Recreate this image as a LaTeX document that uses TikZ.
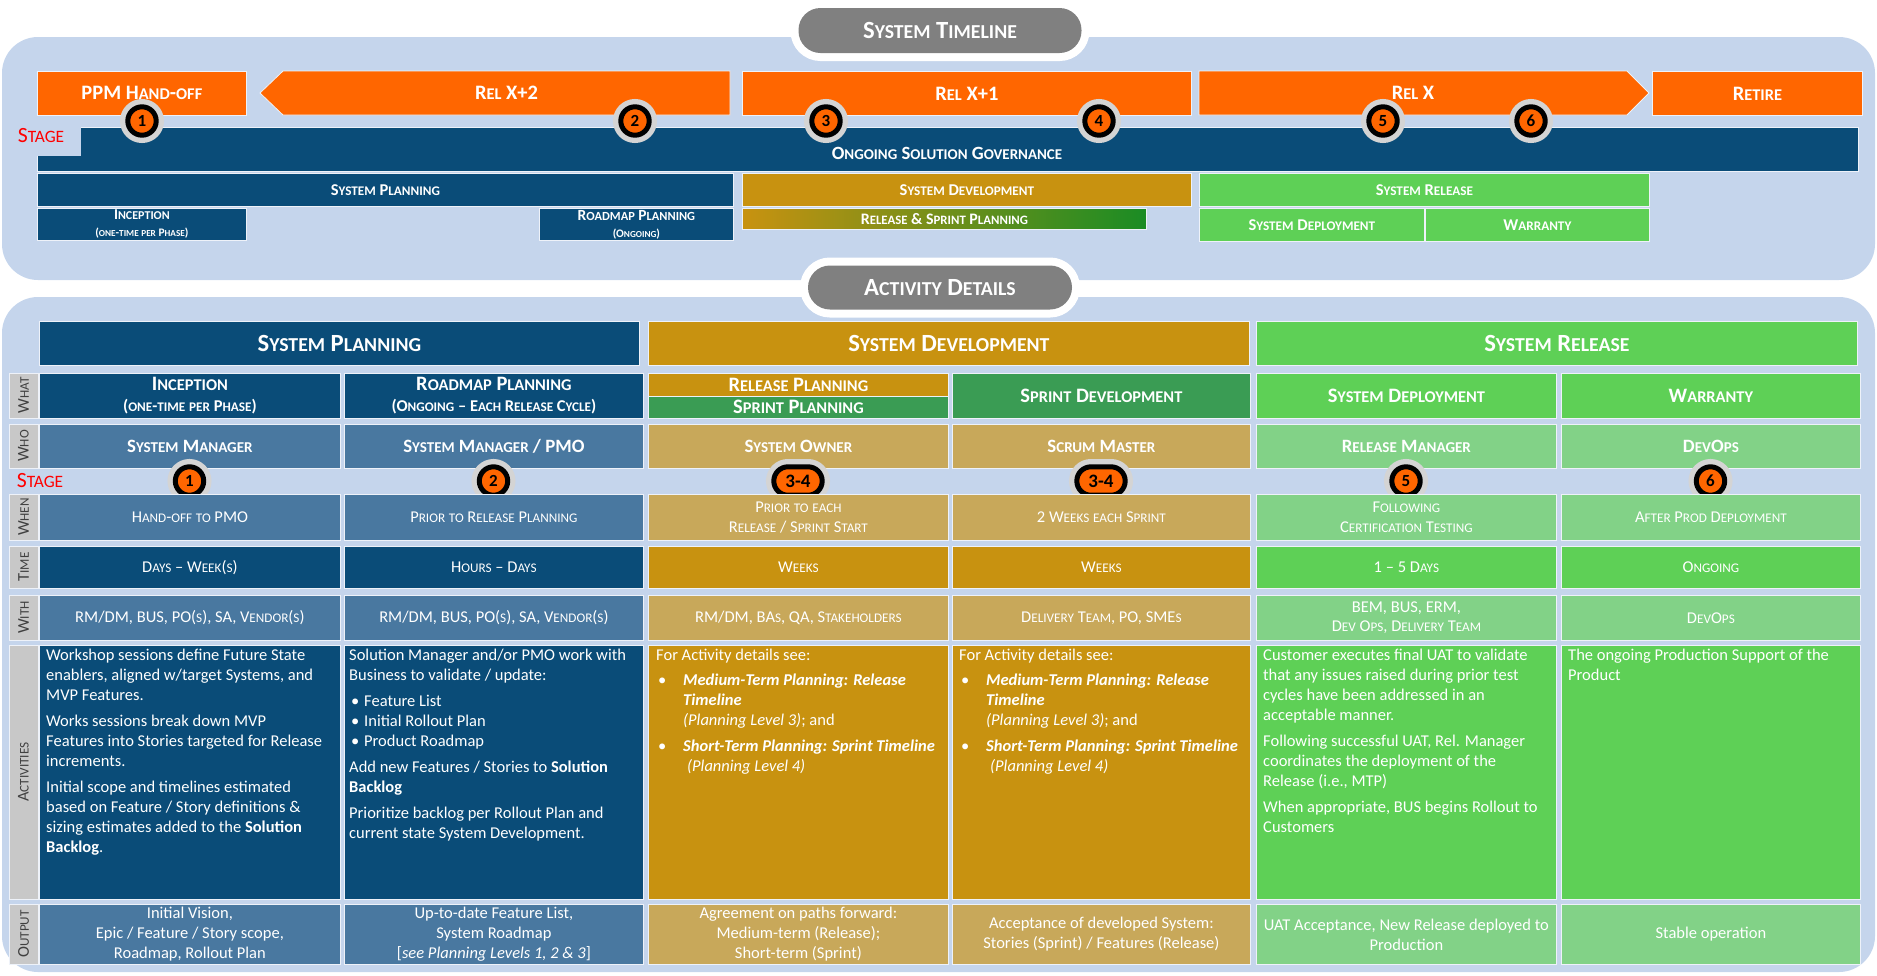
\documentclass[tikz,border=0pt]{standalone}
\usepackage{fontspec}
\setmainfont{Carlito}
\usepackage{xcolor}
\definecolor{panel}{RGB}{197,213,236}
\definecolor{navy}{RGB}{10,76,120}
\definecolor{steel}{RGB}{73,120,160}
\definecolor{sdgold}{RGB}{200,146,16}
\definecolor{sand}{RGB}{200,168,90}
\definecolor{srgreen}{RGB}{94,208,86}
\definecolor{mint}{RGB}{130,210,135}
\definecolor{sprint}{RGB}{58,156,84}
\definecolor{rsgreen}{RGB}{26,140,36}
\definecolor{flame}{RGB}{255,102,0}
\definecolor{pillgray}{RGB}{128,128,128}
\definecolor{halo}{RGB}{212,212,212}
\definecolor{tagfill}{RGB}{200,200,200}
\definecolor{tagtext}{RGB}{64,64,64}
\definecolor{stagered}{RGB}{255,0,0}

% faked small capitals
\ExplSyntaxOn
\NewDocumentCommand \fsc { m }
  {
    \str_map_inline:nn {#1}
      {
        \str_if_in:nnTF { abcdefghijklmnopqrstuvwxyz } {##1}
          {
            {
              \fontsize { \fp_eval:n { 0.8 * \use:c { f@size } } pt }
                { \use:c { f@baselineskip } } \selectfont
              \str_uppercase:n {##1}
            }
          }
          { ##1 }
      }
  }
\ExplSyntaxOff

\newcommand\bul[1]{\hspace*{2pt}\makebox[13pt][l]{\textbullet}#1}
\newcommand\devdetails{%
  For Activity details see:\\[5pt]
  \hspace*{2pt}\makebox[25pt][l]{\textbullet}\textbf{\textit{Medium-Term Planning: Release}}\\
  \hspace*{27pt}\textbf{\textit{Timeline}}\\
  \hspace*{27pt}\textit{(Planning Level 3)}; and\\[6pt]
  \hspace*{2pt}\makebox[25pt][l]{\textbullet}\textbf{\textit{Short-Term Planning: Sprint Timeline}}\\
  \hspace*{31pt}\textit{(Planning Level 4)}}

\begin{document}
\begin{tikzpicture}[x=1pt,y=-1pt,
  box/.style={draw=white!70!panel, line width=0.8pt, inner sep=0pt, text=white, align=center},
  cell/.style={box, anchor=north west},
  relfont/.style={font=\fontsize{20.5}{24}\selectfont\bfseries},
  lblfont/.style={font=\fontsize{16.5}{19}\selectfont\bfseries},
  hdrfont/.style={font=\fontsize{24.7}{28}\selectfont\bfseries},
  whatfont/.style={font=\fontsize{20.5}{21}\selectfont\bfseries},
  whofont/.style={font=\fontsize{18.8}{22}\selectfont\bfseries},
  plainfont/.style={font=\fontsize{16.5}{19.5}\selectfont},
  flamebox/.style={fill=flame, draw=white!70!panel, line width=0.8pt},
  pill/.style={fill=pillgray, rounded corners=22pt, minimum height=45, text=white,
    font=\fontsize{24.7}{28}\selectfont\bfseries, preaction={draw=white, line width=16pt}},
  badge/.style={circle, fill=flame, draw=black, line width=5pt, minimum size=28.4pt,
    inner sep=0pt, text=black, font=\fontsize{17}{17}\selectfont\bfseries,
    preaction={draw=halo, line width=15.6pt}},
  badgewide/.style={badge, rectangle, rounded corners=14.2pt, minimum width=48.4pt,
    minimum height=28.4pt, font=\fontsize{19}{19}\selectfont\bfseries},
  stagelbl/.style={text=stagered, inner sep=0pt, font=\fontsize{21.7}{24}\selectfont},
  tag/.style={box, fill=tagfill, text=tagtext, rotate=90, minimum height=29,
    font=\fontsize{16.5}{18}\selectfont},
  act/.style={anchor=north west, inner sep=0pt, align=left, text=white,
    font=\fontsize{16.5}{20}\selectfont},
  outfont/.style={font=\fontsize{16.5}{20}\selectfont}]
\useasboundingbox (0,0) rectangle (1877,975);

% ---------------- system timeline ----------------
\fill[panel, rounded corners=36pt] (2,37) rectangle (1875,280);
\node[pill, minimum width=283] (timeline) at (940,30.5) {\fsc{System Timeline}};

\node[cell, fill=flame, relfont, minimum width=209, minimum height=44] (ppm) at (37,71) {\fsc{PPM Hand-off}};
\draw[flamebox] (260,93) -- (283,71) -- (730,71) -- (730,115) -- (283,115) -- cycle;
\node[relfont, text=white] (relx2) at (506.5,93) {\fsc{Rel X+2}};
\node[cell, fill=flame, relfont, minimum width=449, minimum height=44] (relx1) at (742,71) {\fsc{Rel X+1}};
\draw[flamebox] (1199,71) -- (1627,71) -- (1649,93) -- (1627,115) -- (1199,115) -- cycle;
\node[relfont, text=white] (relx) at (1413,93) {\fsc{Rel X}};
\node[cell, fill=flame, relfont, minimum width=210, minimum height=44] (retire) at (1652,71) {\fsc{Retire}};

\node[cell, fill=navy, minimum width=1821, minimum height=44] (gov) at (37,127) {};
\fill[panel] (36,126) rectangle (81,156);
\node[text=white, font=\fontsize{18.7}{22}\selectfont\bfseries] (govtext) at (947,153) {\fsc{Ongoing Solution Governance}};
\node[stagelbl] (stagetop) at (41,136) {\fsc{Stage}};

\node[cell, fill=navy, lblfont, minimum width=696, minimum height=33] (tplan) at (37,173) {\fsc{System Planning}};
\node[cell, fill=sdgold, lblfont, minimum width=449, minimum height=33] (tdev) at (742,173) {\fsc{System Development}};
\node[cell, fill=srgreen, lblfont, minimum width=450, minimum height=33] (trel) at (1199,173) {\fsc{System Release}};

\node[cell, fill=navy, font=\fontsize{15}{17}\selectfont\bfseries, minimum width=209, minimum height=32] (tincep) at (37,208)
  {\fsc{Inception}\\{\fontsize{11.5}{14}\selectfont\fsc{(one-time per Phase)}}};
\node[cell, fill=navy, font=\fontsize{15.5}{17}\selectfont\bfseries, minimum width=194, minimum height=32] (troad) at (539,208)
  {\fsc{Roadmap Planning}\\{\fontsize{11.5}{14}\selectfont\fsc{(Ongoing)}}};
\node[cell, left color=sdgold, right color=rsgreen, font=\fontsize{16}{18}\selectfont\bfseries, minimum width=404, minimum height=21] (trsp) at (742,208)
  {\fsc{Release & Sprint Planning}};
\node[cell, fill=srgreen, lblfont, minimum width=225, minimum height=33] (tdep) at (1199,208) {\fsc{System Deployment}};
\node[cell, fill=srgreen, lblfont, minimum width=224, minimum height=33] (twar) at (1425,208) {\fsc{Warranty}};

\foreach \n/\x in {1/142,2/635,3/826,4/1099,5/1383,6/1531}
  \node[badge] (tb\n) at (\x,121) {\n};

% ---------------- activity details ----------------
\fill[panel, rounded corners=36pt] (2,297) rectangle (1875,972);
\node[pill, minimum width=264, minimum height=44] (details) at (940,287.5) {\fsc{Activity Details}};

\node[cell, fill=navy, hdrfont, minimum width=600, minimum height=44] (hplan) at (39,321) {\fsc{System Planning}};
\node[cell, fill=sdgold, hdrfont, minimum width=601, minimum height=44] (hdev) at (648,321) {\fsc{System Development}};
\node[cell, fill=srgreen, hdrfont, minimum width=601, minimum height=44] (hrel) at (1256,321) {\fsc{System Release}};

% row labels
\foreach \n/\y/\h/\t in {what/395.5/45/{\fsc{What}}, who/446/44/{\fsc{Who}}, when/517/46/{\fsc{When}},
    time/567/42/{\fsc{Time}}, with/617.5/45/{\fsc{With}}, act/772/254/{\fsc{Activities}}, out/934/60/{\fsc{Output}}}
  \node[tag, minimum width=\h] (tag\n) at (23.5,\y) {\t};

% what
\node[cell, fill=navy, whatfont, minimum width=301, minimum height=45] (what1) at (39,373)
  {\fsc{Inception}\\{\fontsize{16.5}{19}\selectfont\fsc{(one-time per Phase)}}};
\node[cell, fill=navy, whatfont, minimum width=299, minimum height=45] (what2) at (344,373)
  {\fsc{Roadmap Planning}\\{\fontsize{16.5}{19}\selectfont\fsc{(Ongoing – Each Release Cycle)}}};
\node[cell, fill=sdgold, whatfont, minimum width=300, minimum height=22.5] (what3a) at (648,373) {\fsc{Release Planning}};
\node[cell, fill=sprint, whatfont, minimum width=300, minimum height=22.5] (what3b) at (648,395.5) {\fsc{Sprint Planning}};
\node[cell, fill=sprint, whatfont, minimum width=298, minimum height=45] (what4) at (952,373) {\fsc{Sprint Development}};
\node[cell, fill=srgreen, whatfont, minimum width=300, minimum height=45] (what5) at (1256,373) {\fsc{System Deployment}};
\node[cell, fill=srgreen, whatfont, minimum width=299, minimum height=45] (what6) at (1561,373) {\fsc{Warranty}};

% who
\foreach \c/\x/\w/\fc/\t in {1/39/301/steel/{\fsc{System Manager}}, 2/344/299/steel/{\fsc{System Manager / PMO}},
    3/648/300/sand/{\fsc{System Owner}}, 4/952/298/sand/{\fsc{Scrum Master}},
    5/1256/300/mint/{\fsc{Release Manager}}, 6/1561/299/mint/{\fsc{DevOps}}}
  \node[cell, whofont, fill=\fc, minimum width=\w, minimum height=44] (who\c) at (\x,424) {\t};

% stage
\node[stagelbl] (stagetab) at (40,481) {\fsc{Stage}};
\node[badge] (sb1) at (189.5,481) {1};
\node[badge] (sb2) at (493.5,481) {2};
\node[badgewide] (sb3) at (798,481) {3-4};
\node[badgewide] (sb4) at (1101,481) {3-4};
\node[badge] (sb5) at (1406,481) {5};
\node[badge] (sb6) at (1710.5,481) {6};

% when
\foreach \c/\x/\w/\fc/\t in {1/39/301/steel/{\fsc{Hand-off to PMO}}, 2/344/299/steel/{\fsc{Prior to Release Planning}},
    3/648/300/sand/{\fsc{Prior to each}\\\fsc{Release / Sprint Start}}, 4/952/298/sand/{\fsc{2 Weeks each Sprint}},
    5/1256/300/mint/{\fsc{Following}\\\fsc{Certification Testing}}, 6/1561/299/mint/{\fsc{After Prod Deployment}}}
  \node[cell, plainfont, fill=\fc, minimum width=\w, minimum height=46] (when\c) at (\x,494) {\t};

% time
\foreach \c/\x/\w/\fc/\t in {1/39/301/navy/{\fsc{Days – Week(s)}}, 2/344/299/navy/{\fsc{Hours – Days}},
    3/648/300/sdgold/{\fsc{Weeks}}, 4/952/298/sdgold/{\fsc{Weeks}},
    5/1256/300/srgreen/{\fsc{1 – 5 Days}}, 6/1561/299/srgreen/{\fsc{Ongoing}}}
  \node[cell, plainfont, fill=\fc, minimum width=\w, minimum height=42] (time\c) at (\x,546) {\t};

% with
\foreach \c/\x/\w/\fc/\t in {1/39/301/steel/{\fsc{RM/DM, BUS, PO(s), SA, Vendor(s)}}, 2/344/299/steel/{\fsc{RM/DM, BUS, PO(s), SA, Vendor(s)}},
    3/648/300/sand/{\fsc{RM/DM, BAs, QA, Stakeholders}}, 4/952/298/sand/{\fsc{Delivery Team, PO, SMEs}},
    5/1256/300/mint/{\fsc{BEM, BUS, ERM,}\\\fsc{Dev Ops, Delivery Team}}, 6/1561/299/mint/{\fsc{DevOps}}}
  \node[cell, plainfont, fill=\fc, minimum width=\w, minimum height=45] (with\c) at (\x,595) {\t};

% activities
\foreach \c/\x/\w/\fc in {1/39/301/navy, 2/344/299/navy, 3/648/300/sdgold, 4/952/298/sdgold, 5/1256/300/srgreen, 6/1561/299/srgreen}
  \node[cell, fill=\fc, minimum width=\w, minimum height=254] (act\c) at (\x,645) {};

\node[act] (act1t) at (46,649) {Workshop sessions define Future State\\
  enablers, aligned w/target Systems, and\\
  MVP Features.\\[6pt]
  Works sessions break down MVP\\
  Features into Stories targeted for Release\\
  increments.\\[6pt]
  Initial scope and timelines estimated\\
  based on Feature / Story definitions \&\\
  sizing estimates added to the \textbf{Solution}\\
  \textbf{Backlog}.};
\node[act] (act2t) at (349,649) {Solution Manager and/or PMO work with\\
  Business to validate / update:\\[6pt]
  \bul{Feature List}\\
  \bul{Initial Rollout Plan}\\
  \bul{Product Roadmap}\\[6pt]
  Add new Features / Stories to \textbf{Solution}\\
  \textbf{Backlog}\\[6pt]
  Prioritize backlog per Rollout Plan and\\
  current state System Development.};
\node[act] (act3t) at (656,649) {\devdetails};
\node[act] (act4t) at (959,649) {\devdetails};
\node[act] (act5t) at (1263,649) {Customer executes final UAT to validate\\
  that any issues raised during prior test\\
  cycles have been addressed in an\\
  acceptable manner.\\[6pt]
  Following successful UAT, Rel. Manager\\
  coordinates the deployment of the\\
  Release (i.e., MTP)\\[6pt]
  When appropriate, BUS begins Rollout to\\
  Customers};
\node[act] (act6t) at (1568,649) {The ongoing Production Support of the\\
  Product};

% output
\foreach \c/\x/\w/\fc/\t in {1/39/301/steel/{Initial Vision,\\Epic / Feature / Story scope,\\Roadmap, Rollout Plan},
    2/344/299/steel/{Up-to-date Feature List,\\System Roadmap\\{[}\textit{see Planning Levels 1, 2 \& 3}]},
    3/648/300/sand/{Agreement on paths forward:\\Medium-term (Release);\\Short-term (Sprint)},
    4/952/298/sand/{Acceptance of developed System:\\Stories (Sprint) / Features (Release)},
    5/1256/300/mint/{UAT Acceptance, New Release deployed to\\Production},
    6/1561/299/mint/{Stable operation}}
  \node[cell, outfont, fill=\fc, minimum width=\w, minimum height=60] (out\c) at (\x,904) {\t};
\end{tikzpicture}
\end{document}
